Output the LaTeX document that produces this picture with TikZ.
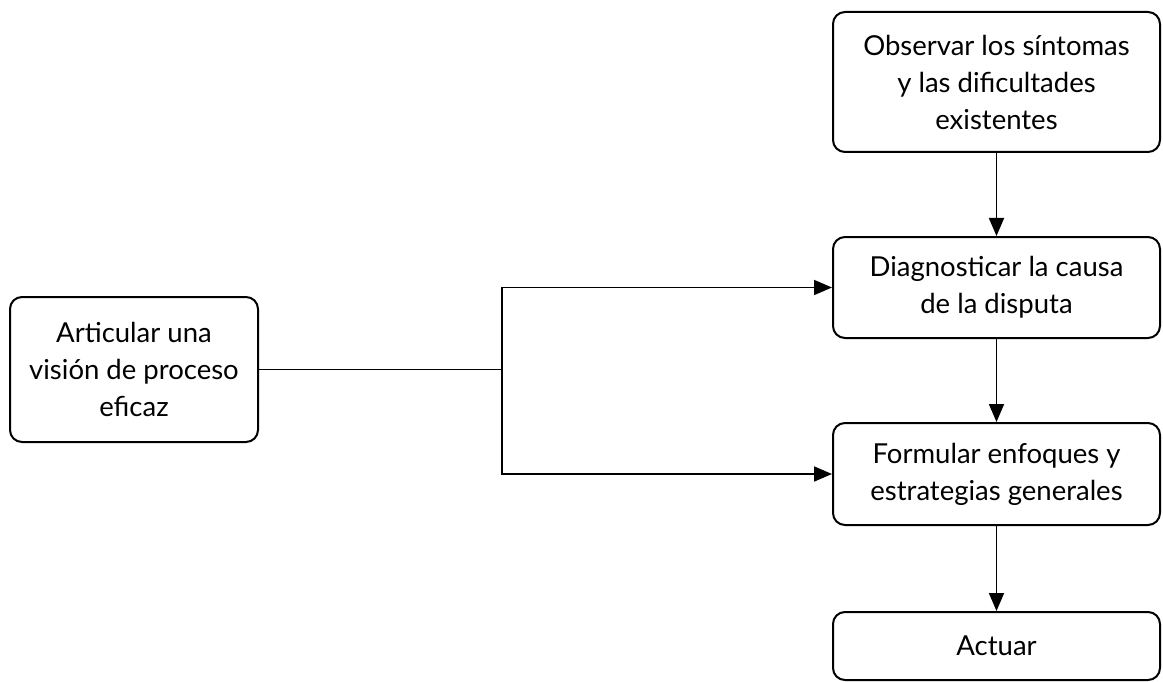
\documentclass[tikz,border=0pt]{standalone}
\usepackage{fontspec}
\setmainfont{Lato}
\usetikzlibrary{arrows.meta}
\begin{document}
\begin{tikzpicture}[x=1pt,y=-1pt,
  box/.style={draw, line width=2pt, rounded corners=12pt, align=center,
    inner sep=0pt, font=\fontsize{27.5}{37}\selectfont},
  link/.style={line width=1.8pt},
  arr/.style={line width=1.8pt, -{Triangle[length=18pt,width=15pt]}}]
\useasboundingbox[fill=white] (0,0) rectangle (1163,682);
\node[box, minimum width=327pt, minimum height=140pt] (obs) at (996.5,82) {Observar los síntomas\\y las dificultades\\existentes};
\node[box, minimum width=327pt, minimum height=101pt] (diag) at (996.5,287.5) {Diagnosticar la causa\\de la disputa};
\node[box, minimum width=327pt, minimum height=102pt] (form) at (996.5,474) {Formular enfoques y\\estrategias generales};
\node[box, minimum width=327pt, minimum height=68pt] (act) at (996.5,646) {Actuar};
\node[box, minimum width=248pt, minimum height=145pt] (art) at (134,369.5) {Articular una\\visión de proceso\\eficaz};
\coordinate (j) at (502,369.5);
\draw[link] (art.east) -- (j);
\draw[arr] (j) |- (diag.west);
\draw[arr] (j) |- (form.west);
\draw[arr] (obs) -- (diag);
\draw[arr] (diag) -- (form);
\draw[arr] (form) -- (act);
\end{tikzpicture}
\end{document}
